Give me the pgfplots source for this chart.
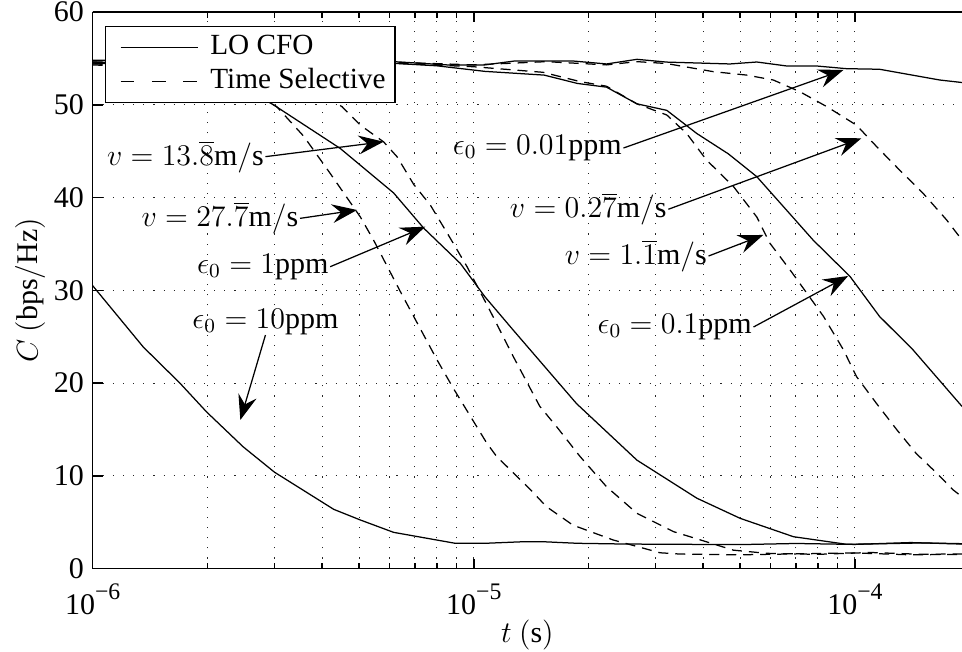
\documentclass[border=0pt]{standalone}
\usepackage{fontspec}
\setmainfont{Liberation Serif}
\usepackage{pgfplots}
\pgfplotsset{compat=1.18}
\usetikzlibrary{arrows.meta}

\newcommand{\tp}[1]{10\raisebox{0.5em}{\fontsize{9.5}{9.5}\selectfont −#1}}

\pgfplotstableread{
t C
1e-6 30.5
1.357e-6 23.9
1.694e-6 20.0
1.99e-6 16.9
2.48e-6 13.15
3.0e-6 10.4
4.29e-6 6.4
5.04e-6 5.25
6.16e-6 3.92
8.94e-6 2.74
1.07e-5 2.74
1.35e-5 2.91
1.52e-5 2.91
1.87e-5 2.74
2.5e-5 2.66
3.5e-5 2.63
5e-5 2.6
7e-5 2.72
1e-4 2.62
1.4e-4 2.82
1.91e-4 2.66
}\lotenppm

\pgfplotstableread{
t C
1e-6 54.5
1.5e-6 54.2
2e-6 53.2
2.5e-6 51.8
2.98e-6 50.0
4.46e-6 45.3
6.16e-6 40.5
7.39e-6 36.7
9.22e-6 32.9
1.07e-5 29.3
1.27e-5 25.7
1.86e-5 17.8
2.68e-5 11.7
3.85e-5 7.6
5.0e-5 5.43
6.9e-5 3.45
9.52e-5 2.63
1.2e-4 2.7
1.5e-4 2.78
1.91e-4 2.7
}\loone

\pgfplotstableread{
t C
1e-6 54.6
3e-6 54.5
6.16e-6 54.47
8e-6 54.2
1.07e-5 53.6
1.53e-5 53.2
1.87e-5 52.3
2.23e-5 51.9
2.68e-5 50.1
3.21e-5 49.4
3.85e-5 46.9
4.66e-5 44.7
5.53e-5 42.25
7.78e-5 35.4
9.71e-5 31.5
1.16e-4 27.2
1.42e-4 23.6
1.91e-4 17.5
}\lopointone

\pgfplotstableread{
t C
1e-6 54.8
3e-6 54.7
6.16e-6 54.65
8.5e-6 54.3
1.07e-5 54.3
1.28e-5 54.72
1.82e-5 54.72
2.23e-5 54.4
2.68e-5 54.9
3.21e-5 54.6
4.7e-5 54.4
5.53e-5 54.61
6.63e-5 54.18
7.94e-5 54.18
9.52e-5 53.89
1.16e-4 53.83
1.67e-4 52.67
1.91e-4 52.4
}\lopointzeroone

\pgfplotstableread{
t C
1e-6 54.3
1.5e-6 54.0
2e-6 53.2
2.5e-6 51.8
3.04e-6 49.8
3.58e-6 46.6
4.2e-6 42.6
5.04e-6 37.9
5.46e-6 35.4
6.41e-6 29.9
8.01e-6 22.5
8.85e-6 19.4
1.083e-5 13.5
1.148e-5 12.1
1.41e-5 8.5
1.55e-5 6.7
1.82e-5 4.7
2.32e-5 3.1
2.68e-5 2.4
3.08e-5 1.72
3.48e-5 1.58
5e-5 1.5
7e-5 1.6
1e-4 1.7
1.4e-4 1.5
1.91e-4 1.55
}\tsa

\pgfplotstableread{
t C
1e-6 54.4
2e-6 54.1
3e-6 53.2
3.5e-6 52.3
4e-6 51.1
4.51e-6 49.8
5.04e-6 47.8
5.8e-6 46.0
6.29e-6 44.4
6.96e-6 41.4
7.69e-6 39.2
8.68e-6 35.6
9.6e-6 32.55
1.1e-5 27.9
1.27e-5 22.85
1.49e-5 17.5
1.65e-5 15.3
1.9e-5 12.1
2.23e-5 8.84
2.68e-5 5.97
3.34e-5 4.0
4.08e-5 2.9
4.8e-5 2.0
5.87e-5 1.66
8e-5 1.55
1.1e-4 1.75
1.5e-4 1.55
1.91e-4 1.6
}\tsb

\pgfplotstableread{
t C
1e-6 54.5
6e-6 54.5
1e-5 54.1
1.52e-5 53.5
1.9e-5 52.5
2.23e-5 52.0
2.68e-5 50.1
3.21e-5 48.9
3.62e-5 46.9
4.08e-5 44.05
4.8e-5 41.2
5.53e-5 37.9
5.98e-5 35.1
6.76e-5 32.2
7.48e-5 29.7
8.27e-5 27.2
9.33e-5 23.6
1.01e-4 20.7
1.14e-4 17.8
1.29e-4 14.95
1.45e-4 12.4
1.64e-4 10.3
1.81e-4 8.5
1.91e-4 7.76
}\tsc

\pgfplotstableread{
t C
1e-6 54.6
6e-6 54.6
1e-5 54.3
1.55e-5 54.65
2.23e-5 54.3
2.68e-5 54.65
3.2e-5 54.45
4.25e-5 53.57
5.2e-5 53.2
6.11e-5 52.67
7.18e-5 51.4
8.44e-5 49.8
1.01e-4 47.8
1.14e-4 45.5
1.31e-4 42.97
1.51e-4 40.46
1.74e-4 37.6
1.91e-4 35.43
}\tsd

\begin{document}
\begin{tikzpicture}[font=\fontsize{12}{14}\selectfont,
  arr/.style={line width=0.5pt, -{Stealth[length=10pt,width=7.5pt,inset=3.5pt]}}]
\begin{axis}[
  name=ax,
  scale only axis, width=347.7pt, height=222.7pt,
  xmode=log, xmin=1e-6, xmax=1.91e-4, ymin=0, ymax=60,
  axis x line*=box, axis y line*=left,
  axis line style={line width=0.6pt},
  tick style={line width=0.6pt, black},
  tick align=inside,
  major tick length=4pt, minor tick length=2.4pt,
  xtick={1e-6,1e-5,1e-4},
  xticklabels={\tp{6},\tp{5},\tp{4}},
  minor xtick={2e-6,3e-6,4e-6,5e-6,6e-6,7e-6,8e-6,9e-6,2e-5,3e-5,4e-5,5e-5,6e-5,7e-5,8e-5,9e-5},
  ytick={0,10,...,60},
  /pgf/number format/assume math mode=true,
  tick label style={font=\fontsize{12}{14}\selectfont},
  xticklabel style={yshift=-2.5pt},
  xmajorgrids, xminorgrids, ymajorgrids,
  major grid style={black!85, line width=0.4pt, dash pattern=on 0.45pt off 3.6pt},
  minor grid style={black!85, line width=0.4pt, dash pattern=on 0.45pt off 3.6pt},
  xlabel={$t~(\mathrm{s})$},
  ylabel={$C~(\mathrm{bps/Hz})$},
  xlabel style={at={(axis description cs:0.5,0)}, anchor=center, yshift=-26.5pt},
  ylabel style={at={(axis description cs:-0.0719,0.5)}, anchor=center},
  legend style={at={(0.0138,0.9753)}, anchor=north west, draw=black, line width=0.5pt,
    fill=white, font=\fontsize{11.7}{14}\selectfont, inner xsep=2.3pt, inner ysep=1.5pt,
    column sep=3.1pt,
    nodes={text height=8pt, text depth=2.5pt, inner ysep=1.6pt, inner xsep=1.5pt}},
  legend cell align=left,
  legend image code/.code={\path (0pt,0pt); \draw[#1] (3.6pt,0pt) -- (34.6pt,0pt);},
  solidc/.style={black, line width=0.5pt},
  dashc/.style={black, line width=0.5pt, dash pattern=on 4pt off 2.8pt},
]
\addplot[solidc] table[x=t,y=C] {\lotenppm};
\addlegendentry{LO CFO}
\addplot[dashc, legend image code/.code={\path (0pt,0pt); \draw[black, line width=0.5pt, dash pattern=on 5.5pt off 7pt] (3.6pt,0pt) -- (34.6pt,0pt);}] table[x=t,y=C] {\tsa};
\addlegendentry{Time Selective}
\addplot[solidc, forget plot] table[x=t,y=C] {\loone};
\addplot[solidc, forget plot] table[x=t,y=C] {\lopointone};
\addplot[solidc, forget plot] table[x=t,y=C] {\lopointzeroone};
\addplot[dashc, forget plot] table[x=t,y=C] {\tsb};
\addplot[dashc, forget plot] table[x=t,y=C] {\tsc};
\addplot[dashc, forget plot] table[x=t,y=C] {\tsd};

% annotations
\draw[arr] (axis cs:2.84e-6,44.41) -- (axis cs:5.80e-6,46.02);
\node[anchor=east, inner sep=0.5pt] at (axis cs:2.84e-6,44.41) {$v=13.\overline{8}\mathrm{m/s}$};
\draw[arr] (axis cs:3.50e-6,37.76) -- (axis cs:4.94e-6,38.66);
\node[anchor=east, inner sep=0.5pt] at (axis cs:3.50e-6,37.76) {$v=27.\overline{7}\mathrm{m/s}$};
\draw[arr] (axis cs:4.20e-6,32.55) -- (axis cs:7.46e-6,36.86);
\node[anchor=east, inner sep=0.5pt] at (axis cs:4.20e-6,32.55) {$\epsilon_0=1\mathrm{ppm}$};
\draw[arr] (axis cs:2.47e-5,45.34) -- (axis cs:9.33e-5,53.75);
\node[anchor=east, inner sep=0.5pt] at (axis cs:2.47e-5,45.34) {$\epsilon_0=0.01\mathrm{ppm}$};
\draw[arr] (axis cs:3.24e-5,38.74) -- (axis cs:1.04e-4,46.39);
\node[anchor=east, inner sep=0.5pt] at (axis cs:3.24e-5,38.74) {$v=0.2\overline{7}\mathrm{m/s}$};
\draw[arr] (axis cs:4.13e-5,33.70) -- (axis cs:5.75e-5,35.97);
\node[anchor=east, inner sep=0.5pt] at (axis cs:4.13e-5,33.70) {$v=1.\overline{1}\mathrm{m/s}$};
\draw[arr] (axis cs:5.42e-5,26.05) -- (axis cs:9.6e-5,31.55);
\node[anchor=east, inner sep=0.5pt] at (axis cs:5.42e-5,26.05) {$\epsilon_0=0.1\mathrm{ppm}$};
\draw[arr] (axis cs:2.84e-6,25.19) -- (axis cs:2.44e-6,16.03);
\node[anchor=south, inner sep=0pt] at (axis cs:2.84e-6,25.19) {$\epsilon_0=10\mathrm{ppm}$};
\end{axis}
\pgfresetboundingbox
\path[use as bounding box] ([xshift=-37.1pt,yshift=-33.3pt]ax.south west) rectangle ([yshift=4.8pt]ax.north east);
\end{tikzpicture}
\end{document}
